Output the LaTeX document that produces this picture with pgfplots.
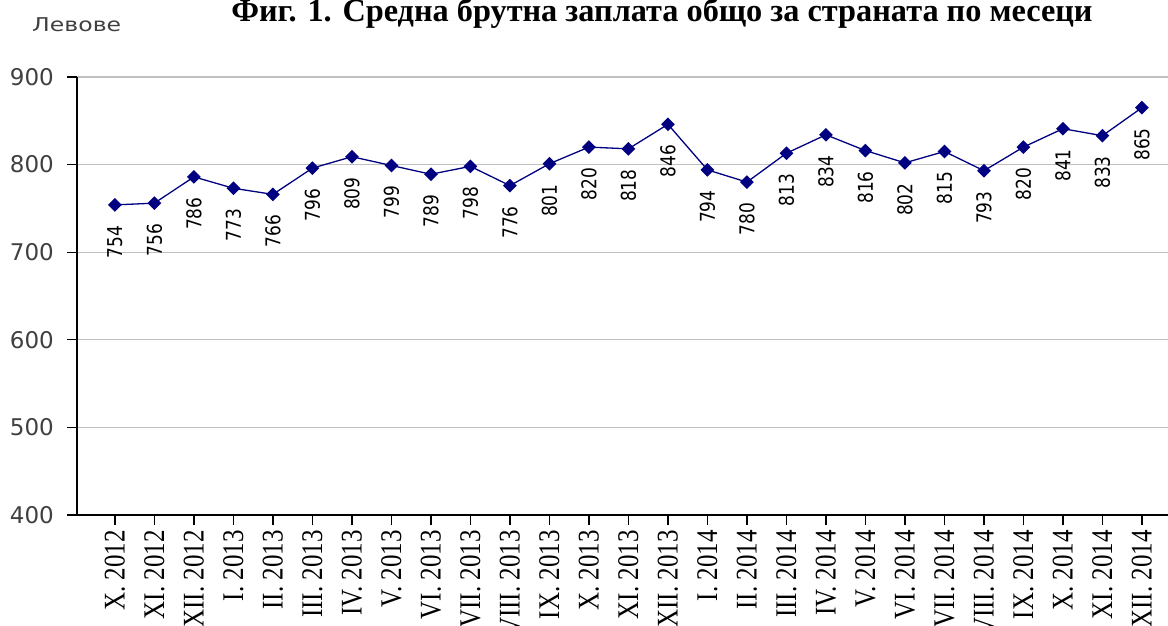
\documentclass[border=0pt]{standalone}
\usepackage{fontspec}
\setmainfont{Liberation Serif}
\newfontfamily\dejavu{DejaVu Sans}
\usepackage{pgfplots}
\pgfplotsset{compat=1.18}
\definecolor{navy}{HTML}{000080}
\definecolor{gridgray}{HTML}{C0C0C0}
\definecolor{ticktext}{HTML}{404040}
\begin{document}
\begin{tikzpicture}
\begin{axis}[
  scale only axis,
  width=1091pt, height=438pt,
  anchor=south west, at={(77pt,-515pt)},
  xmin=-0.96, xmax=26.66,
  ymin=400, ymax=900,
  ytick={400,500,...,900},
  xtick={0,...,26},
  xticklabels={X. 2012, XI. 2012, XII. 2012, I. 2013, II. 2013, III. 2013, IV. 2013, V. 2013, VI. 2013, VII. 2013, VIII. 2013, IX. 2013, X. 2013, XI. 2013, XII. 2013, I. 2014, II. 2014, III. 2014, IV. 2014, V. 2014, VI. 2014, VII. 2014, VIII. 2014, IX. 2014, X. 2014, XI. 2014, XII. 2014},
  axis lines*=left,
  axis line style={black, line width=1.3pt},
  tick style={black, line width=1.3pt},
  major tick length=10pt,
  tick align=outside,
  ymajorgrids,
  grid style={gridgray, line width=1.3pt},
  /pgf/number format/assume math mode=true,
  yticklabel style={font=\dejavu\fontsize{23}{23}\selectfont, text=ticktext, anchor=east, inner sep=0pt, xshift=-13pt},
  xticklabel style={font=\fontsize{25}{25}\selectfont, rotate=90, anchor=east, inner sep=0pt, xshift=-5pt, yscale=1.2},
  nodes near coords,
  every node near coord/.append style={yshift=-20pt, rotate=90, anchor=east, inner sep=0pt, yscale=1.2, font=\dejavu\fontsize{17}{17}\selectfont, text=black},
]
\addplot[navy, line width=1.3pt, mark=square*, mark size=4.2pt, mark options={rotate=45, fill=navy, draw=navy}]
coordinates {
(0,754) (1,756) (2,786) (3,773) (4,766) (5,796) (6,809) (7,799) (8,789) (9,798)
(10,776) (11,801) (12,820) (13,818) (14,846) (15,794) (16,780) (17,813) (18,834)
(19,816) (20,802) (21,815) (22,793) (23,820) (24,841) (25,833) (26,865)
};
\end{axis}
\node[anchor=base west, inner sep=0pt, xscale=1.24, font=\dejavu\fontsize{19}{19}\selectfont, text=ticktext] at (32pt,-32pt) {Левове};
\node[anchor=base, inner sep=0pt, font=\bfseries\fontsize{32.3}{32.3}\selectfont] at (662pt,-22pt) {Фиг. 1. Средна брутна заплата общо за страната по месеци};
\pgfresetboundingbox
\path[use as bounding box] (0,0) rectangle (1168pt,-626pt);
\end{tikzpicture}
\end{document}
